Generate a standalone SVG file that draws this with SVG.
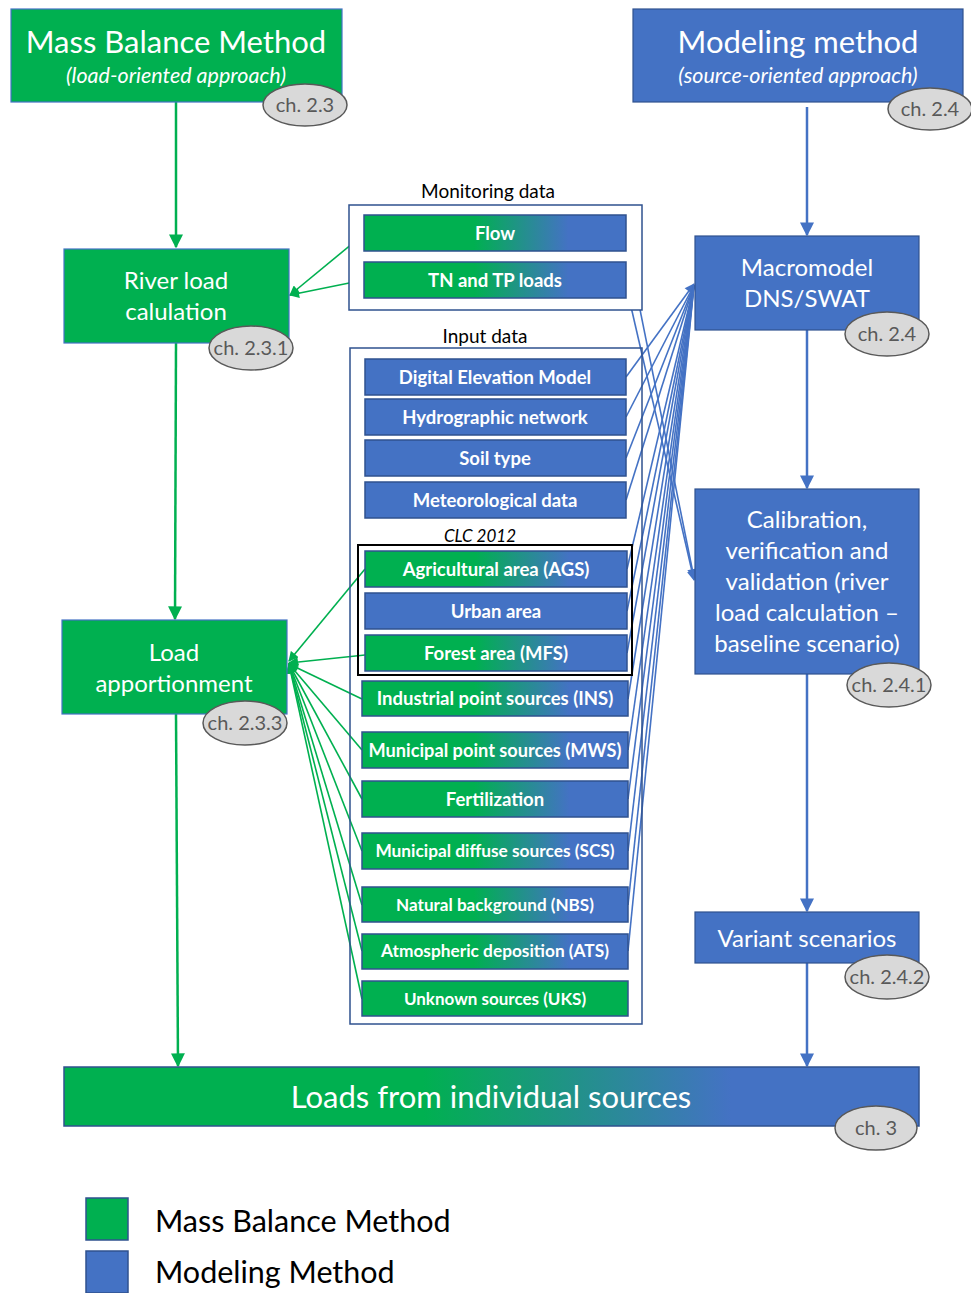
<svg xmlns="http://www.w3.org/2000/svg" width="971" height="1293" viewBox="0 0 971 1293">
<defs>
<linearGradient id="gb" x1="0" y1="0" x2="1" y2="0">
<stop offset="0" stop-color="#00B050"/><stop offset="0.42" stop-color="#00B050"/><stop offset="0.78" stop-color="#4472C4"/><stop offset="1" stop-color="#4472C4"/>
</linearGradient>
<marker id="ag" viewBox="0 0 10 10" refX="9" refY="5" markerWidth="11" markerHeight="10" orient="auto" markerUnits="userSpaceOnUse"><path d="M0,0 L10,5 L0,10 z" fill="#00B050"/></marker>
<marker id="ab" viewBox="0 0 10 10" refX="9" refY="5" markerWidth="11" markerHeight="10" orient="auto" markerUnits="userSpaceOnUse"><path d="M0,0 L10,5 L0,10 z" fill="#4472C4"/></marker>
<marker id="agt" viewBox="0 0 10 10" refX="9" refY="5" markerWidth="14" markerHeight="14" orient="auto" markerUnits="userSpaceOnUse"><path d="M0,0 L10,5 L0,10 z" fill="#00B050"/></marker>
<marker id="abt" viewBox="0 0 10 10" refX="9" refY="5" markerWidth="14" markerHeight="14" orient="auto" markerUnits="userSpaceOnUse"><path d="M0,0 L10,5 L0,10 z" fill="#4472C4"/></marker>
<style>
.gn{fill:#00B050;stroke:#4472C4;stroke-width:1.2}
.bl{fill:#4472C4;stroke:#2F528F;stroke-width:1.2}
.gr{fill:url(#gb);stroke:#2F528F;stroke-width:1.5}
.ib{fill:#4472C4;stroke:#2F528F;stroke-width:1.5}
.ig{fill:#00B050;stroke:#2F528F;stroke-width:1.5}
.t{font-family:Lato,"Open Sans",sans-serif;fill:#fff;text-anchor:middle}
.tb{font-family:Lato,"Open Sans",sans-serif;fill:#fff;text-anchor:middle;font-weight:bold;font-size:18.5px}
.lbl{font-family:Lato,"Open Sans",sans-serif;fill:#000;text-anchor:middle;font-size:19px}
.ch ellipse{fill:#D9D9D9;stroke:#595959;stroke-width:1.5}
.ch text{font-family:Lato,"Open Sans",sans-serif;fill:#595959;font-size:20px;text-anchor:middle}
.lg{stroke:#00B050;stroke-width:1.6;fill:none}
.lb{stroke:#4472C4;stroke-width:1.6;fill:none}
.thg{stroke:#00B050;stroke-width:2.5;fill:none}
.thb{stroke:#4472C4;stroke-width:2.5;fill:none}
</style>
</defs>
<rect width="971" height="1293" fill="#fff"/>

<g id="connectors">
<line class="thg" x1="176" y1="102" x2="176" y2="247" marker-end="url(#agt)"/>
<line class="thg" x1="176" y1="343" x2="175" y2="619" marker-end="url(#agt)"/>
<line class="thg" x1="176" y1="714" x2="178" y2="1066" marker-end="url(#agt)"/>
<line class="thb" x1="807" y1="107" x2="807" y2="235" marker-end="url(#abt)"/>
<line class="thb" x1="807" y1="330" x2="807" y2="488" marker-end="url(#abt)"/>
<line class="thb" x1="807" y1="674" x2="807" y2="911" marker-end="url(#abt)"/>
<line class="thb" x1="807" y1="963" x2="807" y2="1066" marker-end="url(#abt)"/>
<line class="lg" x1="364" y1="234" x2="290" y2="295" marker-end="url(#ag)"/>
<line class="lg" x1="364" y1="280" x2="290" y2="295" marker-end="url(#ag)"/>
<line class="lg" x1="365" y1="569" x2="289" y2="661" marker-end="url(#ag)"/>
<line class="lg" x1="365" y1="655" x2="289" y2="663" marker-end="url(#ag)"/>
<line class="lg" x1="362" y1="699" x2="289" y2="664" marker-end="url(#ag)"/>
<line class="lg" x1="362" y1="750" x2="289" y2="664" marker-end="url(#ag)"/>
<line class="lg" x1="362" y1="799" x2="289" y2="664" marker-end="url(#ag)"/>
<line class="lg" x1="362" y1="851" x2="289" y2="664" marker-end="url(#ag)"/>
<line class="lg" x1="362" y1="905" x2="289" y2="664" marker-end="url(#ag)"/>
<line class="lg" x1="362" y1="951" x2="289" y2="664" marker-end="url(#ag)"/>
<line class="lg" x1="362" y1="999" x2="289" y2="664" marker-end="url(#ag)"/>
<line class="lb" x1="626" y1="377" x2="694" y2="284" marker-end="url(#ab)"/>
<line class="lb" x1="626" y1="417" x2="694" y2="285"/>
<line class="lb" x1="626" y1="458" x2="694" y2="285"/>
<line class="lb" x1="626" y1="500" x2="694" y2="285"/>
<line class="lb" x1="627" y1="569" x2="694" y2="285"/>
<line class="lb" x1="627" y1="611" x2="694" y2="285"/>
<line class="lb" x1="627" y1="653" x2="694" y2="285"/>
<line class="lb" x1="628" y1="699" x2="694" y2="285"/>
<line class="lb" x1="628" y1="750" x2="694" y2="285"/>
<line class="lb" x1="628" y1="799" x2="694" y2="285"/>
<line class="lb" x1="628" y1="851" x2="694" y2="285"/>
<line class="lb" x1="628" y1="905" x2="694" y2="285"/>
<line class="lb" x1="628" y1="951" x2="694" y2="285"/>
<line class="lb" x1="626" y1="240" x2="694" y2="578" marker-end="url(#ab)"/>
<line class="lb" x1="626" y1="285" x2="694" y2="580" marker-end="url(#ab)"/>
</g>

<g id="mass-balance">
<rect class="gn" x="11" y="9" width="331" height="93"/>
<text class="t" x="176" y="53" font-size="31">Mass Balance Method</text>
<text class="t" x="176" y="83" font-size="21.5" font-style="italic">(load-oriented approach)</text>
<g class="ch"><ellipse cx="305" cy="105" rx="42" ry="21"/><text x="305" y="112">ch. 2.3</text></g>
</g>

<g id="modeling">
<rect class="bl" x="633" y="9" width="330" height="93"/>
<text class="t" x="798" y="53" font-size="31">Modeling method</text>
<text class="t" x="798" y="83" font-size="21.5" font-style="italic">(source-oriented approach)</text>
<g class="ch"><ellipse cx="930" cy="109" rx="42" ry="21"/><text x="930" y="116">ch. 2.4</text></g>
</g>

<g id="river-load">
<rect class="gn" x="64" y="249" width="225" height="94"/>
<text class="t" x="176" y="289" font-size="24">River load</text>
<text class="t" x="176" y="320" font-size="24">calulation</text>
<g class="ch"><ellipse cx="251" cy="348" rx="42" ry="22"/><text x="251" y="355">ch. 2.3.1</text></g>
</g>

<g id="load-apportionment">
<rect class="gn" x="62" y="620" width="225" height="94"/>
<text class="t" x="174" y="661" font-size="24">Load</text>
<text class="t" x="174" y="692" font-size="24">apportionment</text>
<g class="ch"><ellipse cx="245" cy="723" rx="42" ry="22"/><text x="245" y="730">ch. 2.3.3</text></g>
</g>

<g id="monitoring">
<text class="lbl" x="488" y="198">Monitoring data</text>
<rect x="349" y="205" width="293" height="105" fill="#fff" stroke="#2F528F" stroke-width="1.5"/>
<rect class="gr" x="364" y="215" width="262" height="36"/>
<text class="tb" x="495" y="240">Flow</text>
<rect class="gr" x="364" y="262" width="262" height="36"/>
<text class="tb" x="495" y="287">TN and TP loads</text>
</g>

<g id="input">
<text class="lbl" x="485" y="343">Input data</text>
<rect x="350" y="348" width="292" height="676" fill="none" stroke="#2F528F" stroke-width="1.5"/>
<rect class="ib" x="365" y="359" width="261" height="36"/>
<text class="tb" x="495" y="384">Digital Elevation Model</text>
<rect class="ib" x="365" y="399" width="261" height="36"/>
<text class="tb" x="495" y="424">Hydrographic network</text>
<rect class="ib" x="365" y="440" width="261" height="36"/>
<text class="tb" x="495" y="465">Soil type</text>
<rect class="ib" x="365" y="482" width="261" height="36"/>
<text class="tb" x="495" y="507">Meteorological data</text>
<text x="480" y="542" font-family="Lato,'Open Sans',sans-serif" font-size="17" font-style="italic" text-anchor="middle" fill="#000">CLC 2012</text>
<rect x="358" y="545" width="274" height="130" fill="none" stroke="#000" stroke-width="2"/>
<rect class="gr" x="365" y="551" width="262" height="36"/>
<text class="tb" x="496" y="576">Agricultural area (AGS)</text>
<rect class="ib" x="365" y="593" width="262" height="36"/>
<text class="tb" x="496" y="618">Urban area</text>
<rect class="gr" x="365" y="635" width="262" height="36"/>
<text class="tb" x="496" y="660">Forest area (MFS)</text>
<rect class="gr" x="362" y="681" width="266" height="35"/>
<text class="tb" x="495" y="705">Industrial point sources (INS)</text>
<rect class="gr" x="362" y="732" width="266" height="36"/>
<text class="tb" x="495" y="757" style="font-size:18.2px">Municipal point sources (MWS)</text>
<rect class="gr" x="362" y="781" width="266" height="36"/>
<text class="tb" x="495" y="806">Fertilization</text>
<rect class="gr" x="362" y="833" width="266" height="36"/>
<text class="tb" x="495" y="857" style="font-size:17.3px">Municipal diffuse sources (SCS)</text>
<rect class="gr" x="362" y="887" width="266" height="35"/>
<text class="tb" x="495" y="911" style="font-size:17.1px">Natural background (NBS)</text>
<rect class="gr" x="362" y="934" width="266" height="35"/>
<text class="tb" x="495" y="957" style="font-size:17.3px">Atmospheric deposition (ATS)</text>
<rect class="ig" x="362" y="981" width="266" height="35"/>
<text class="tb" x="495" y="1005" style="font-size:17px">Unknown sources (UKS)</text>
</g>

<g id="macromodel">
<rect class="bl" x="695" y="236" width="224" height="94"/>
<text class="t" x="807" y="276" font-size="24">Macromodel</text>
<text class="t" x="807" y="307" font-size="24">DNS/SWAT</text>
<g class="ch"><ellipse cx="887" cy="334" rx="42" ry="22"/><text x="887" y="341">ch. 2.4</text></g>
</g>

<g id="calibration">
<rect class="bl" x="695" y="489" width="224" height="185"/>
<text class="t" x="807" y="528" font-size="24">Calibration,</text>
<text class="t" x="807" y="559" font-size="24">verification and</text>
<text class="t" x="807" y="590" font-size="24">validation (river</text>
<text class="t" x="807" y="621" font-size="24">load calculation –</text>
<text class="t" x="807" y="652" font-size="24">baseline scenario)</text>
<g class="ch"><ellipse cx="889" cy="685" rx="42" ry="22"/><text x="889" y="692">ch. 2.4.1</text></g>
</g>

<g id="variant">
<rect class="bl" x="695" y="912" width="224" height="51"/>
<text class="t" x="807" y="947" font-size="24">Variant scenarios</text>
<g class="ch"><ellipse cx="887" cy="977" rx="42" ry="22"/><text x="887" y="984">ch. 2.4.2</text></g>
</g>

<g id="loads">
<rect x="64" y="1067" width="855" height="59" fill="url(#gb)" stroke="#2F528F" stroke-width="1.5"/>
<text class="t" x="491" y="1108" font-size="31">Loads from individual sources</text>
<g class="ch"><ellipse cx="876" cy="1128" rx="41" ry="22"/><text x="876" y="1135">ch. 3</text></g>
</g>

<g id="legend">
<rect x="86" y="1198" width="42" height="42" fill="#00B050" stroke="#2F528F" stroke-width="1.5"/>
<text x="155" y="1232" font-family="Lato,'Open Sans',sans-serif" font-size="30.5" fill="#000">Mass Balance Method</text>
<rect x="86" y="1251" width="42" height="42" fill="#4472C4" stroke="#2F528F" stroke-width="1.5"/>
<text x="155" y="1283" font-family="Lato,'Open Sans',sans-serif" font-size="30.5" fill="#000">Modeling Method</text>
</g>
</svg>
